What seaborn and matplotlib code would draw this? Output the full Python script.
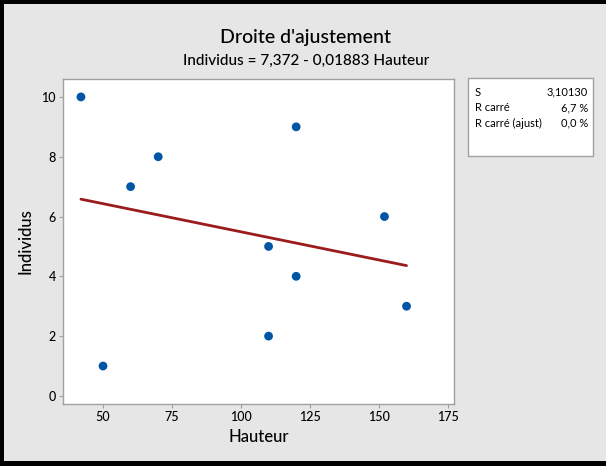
import numpy as np
import pandas as pd
import matplotlib
matplotlib.use("Agg")
import matplotlib.pyplot as plt
import seaborn as sns
from matplotlib.patches import Rectangle

hauteur = [42, 50, 60, 70, 110, 110, 120, 120, 152, 160]
individus = [10, 1, 7, 8, 5, 2, 9, 4, 6, 3]
x_ticks = [50, 75, 100, 125, 150, 175]
y_ticks = [0, 2, 4, 6, 8, 10]
stat_names = ["S", "R carré", "R carré (ajust)"]
stat_values = ["3,10130", "6,7 %", "0,0 %"]

df = pd.DataFrame({"Hauteur": hauteur, "Individus": individus})

sns.set_style("white")
plt.rcParams["font.family"] = ["Lato", "DejaVu Sans"]
plt.rcParams["text.color"] = "black"
plt.rcParams["axes.labelcolor"] = "black"
plt.rcParams["xtick.color"] = "black"
plt.rcParams["ytick.color"] = "black"

fig = plt.figure(figsize=(6.06, 4.66), dpi=100)
fig.patch.set_facecolor("#e6e6e6")
ax = fig.add_axes([63 / 606, 1 - 404 / 466, 391 / 606, 325 / 466])

sns.regplot(data=df, x="Hauteur", y="Individus", ax=ax, ci=None,
            scatter_kws=dict(color="#0055a5", s=40, edgecolor="none", alpha=1),
            line_kws=dict(color="#9b1c1c", lw=2))

ax.set_xlim(35.5, 177.2)
ax.set_ylim(-0.27, 10.6)
ax.set_xticks(x_ticks)
ax.set_yticks(y_ticks)
ax.tick_params(axis="both", labelsize=9, length=3, color="#a0a0a0", direction="out",
               bottom=True, left=True, pad=2)
for label in ax.get_xticklabels() + ax.get_yticklabels():
    label.set_fontweight("medium")
for side, sp in ax.spines.items():
    sp.set_color("#a0a0a0")
    sp.set_linewidth(1)
ax.set_xlabel("Hauteur", fontsize=12, fontweight="medium")
ax.set_ylabel("Individus", fontsize=12, fontweight="medium", labelpad=6)

fig.text(306 / 606, 1 - 37 / 466, "Droite d'ajustement", ha="center", va="center",
         fontsize=14, fontweight="medium")
fig.text(306 / 606, 1 - 61 / 466, "Individus = 7,372 - 0,01883 Hauteur", ha="center",
         va="center", fontsize=11, fontweight="medium")

# stats box
fig.patches.append(Rectangle((468 / 606, 1 - 156 / 466), 125 / 606, 78 / 466,
                             transform=fig.transFigure, facecolor="white",
                             edgecolor="#a0a0a0", lw=1))
for i, (n, v) in enumerate(zip(stat_names, stat_values)):
    yy = 1 - (92 + i * 15.5) / 466
    fig.text(475 / 606, yy, n, ha="left", va="center", fontsize=8)
    fig.text(588 / 606, yy, v, ha="right", va="center", fontsize=8)

# black frame (left, top, bottom)
for r in [(0, 0, 4 / 606, 1), (0, 1 - 4 / 466, 1, 4 / 466), (0, 0, 1, 5 / 466)]:
    fig.patches.append(Rectangle(r[:2], r[2], r[3], transform=fig.transFigure,
                                 facecolor="black", edgecolor="none"))

fig.savefig("out.png", dpi=100, facecolor=fig.get_facecolor())
